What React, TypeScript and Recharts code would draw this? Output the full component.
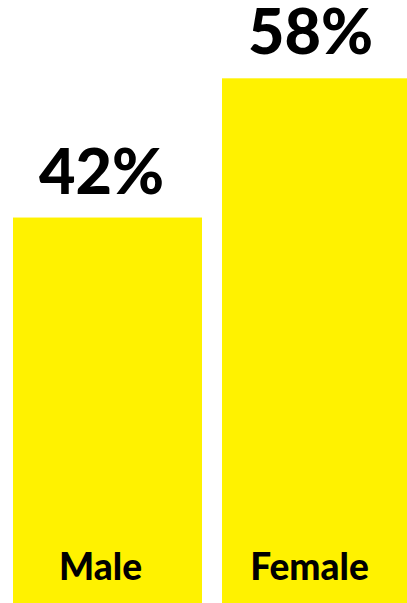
import React from 'react';
import { BarChart, Bar, XAxis, YAxis, LabelList } from 'recharts';

const categories = ['Male', 'Female'];
const shares = [42, 58];
const shareLabels = ['42%', '58%'];

const CHART_W = 421;
const CHART_H = 603;
const Y_MAX = 67;
const YELLOW = '#FFF200';
const FONT = 'Lato, "Open Sans", sans-serif';

const data = categories.map((name, i) => ({
  name,
  value: shares[i],
  label: shareLabels[i],
}));

// bars run down to the bottom edge of the picture
const TallBar = (props: any) => {
  const { x, y, width } = props;
  return <rect x={x} y={y} width={width} height={CHART_H - y} fill={YELLOW} />;
};

const ValueLabel = (props: any) => {
  const { x, y, width, value } = props;
  return (
    <text
      x={x + width / 2 - 6}
      y={y - 24}
      textAnchor="middle"
      fill="#000"
      fontSize={63}
      fontWeight={900}
      fontFamily={FONT}
    >
      {value}
    </text>
  );
};

const NameLabel = (props: any) => {
  const { x, width, value } = props;
  return (
    <text
      x={x + width / 2 - 7}
      y={CHART_H - 23}
      textAnchor="middle"
      fill="#000"
      fontSize={37}
      fontWeight={900}
      fontFamily={FONT}
    >
      {value}
    </text>
  );
};

export default function App() {
  return (
    <div
      style={{
        position: 'absolute',
        left: 0,
        top: 0,
        width: 407,
        height: 603,
        overflow: 'hidden',
        background: '#fff',
      }}
    >
      <BarChart
        width={CHART_W}
        height={CHART_H}
        data={data}
        margin={{ top: 0, right: 0, left: 3, bottom: 20 }}
        barSize={189}
      >
        <XAxis dataKey="name" hide />
        <YAxis hide domain={[0, Y_MAX]} />
        <Bar dataKey="value" shape={<TallBar />} isAnimationActive={false}>
          <LabelList dataKey="label" content={<ValueLabel />} />
          <LabelList dataKey="name" content={<NameLabel />} />
        </Bar>
      </BarChart>
    </div>
  );
}
